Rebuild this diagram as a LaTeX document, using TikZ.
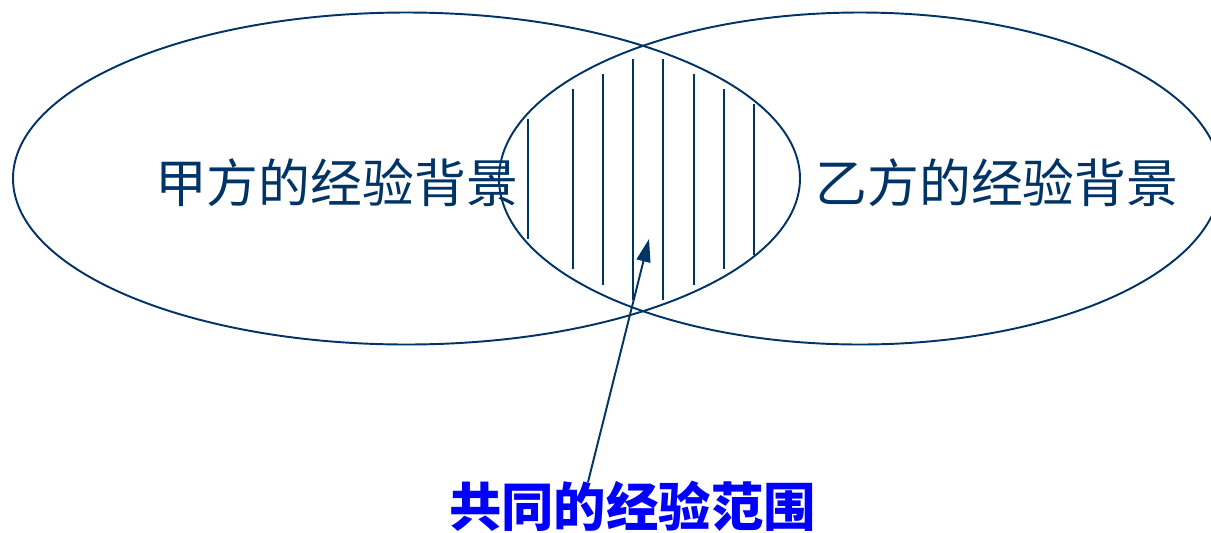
\documentclass[tikz,border=0pt]{standalone}
\usepackage{fontspec}
\usepackage{xcolor}
\usepackage{tikz}
\usetikzlibrary{shapes,arrows.meta,positioning}
\newfontfamily\cjk{Noto Sans CJK SC}
\definecolor{lineblue}{RGB}{0,51,102}
\definecolor{labelblue}{RGB}{0,0,255}
\tikzset{
    setline/.style={draw=lineblue, line width=1.1pt},
    hatchline/.style={draw=lineblue, line width=1.1pt},
    setlabel/.style={inner sep=0pt, text=lineblue, font=\cjk\fontsize{29.5}{30}\selectfont},
    commonlabel/.style={inner sep=0pt, text=labelblue, font=\cjk\bfseries\fontsize{29.8}{30}\selectfont}
}

\begin{document}
\begin{tikzpicture}[x=0.02cm, y=-0.02cm]
    \useasboundingbox (0,0) rectangle (1211,532);
    \draw[setline] (406.5,178.5) ellipse [x radius=393.5, y radius=166];
    \draw[setline] (860,178.5) ellipse [x radius=361, y radius=166];
    \foreach \x/\ya/\yb in {527.7/119/239, 572.7/89/269, 603/74/285, 633/59/300, 663/59/300, 694/74/285, 724/89/269, 754/104/255}
        \draw[hatchline] (\x,\ya) -- (\x,\yb);
    \node[setlabel] (jia) at (336.5,183) {甲方的经验背景};
    \node[setlabel] (yi) at (997,183) {乙方的经验背景};
    \node[commonlabel] (common) at (632.5,506) {共同的经验范围};
    \coordinate (tail) at (588,482);
    \coordinate (overlap) at (649,239);
    \draw[setline, -{Triangle[length=13pt, width=8pt]}] (tail) -- (overlap);
\end{tikzpicture}
\end{document}
